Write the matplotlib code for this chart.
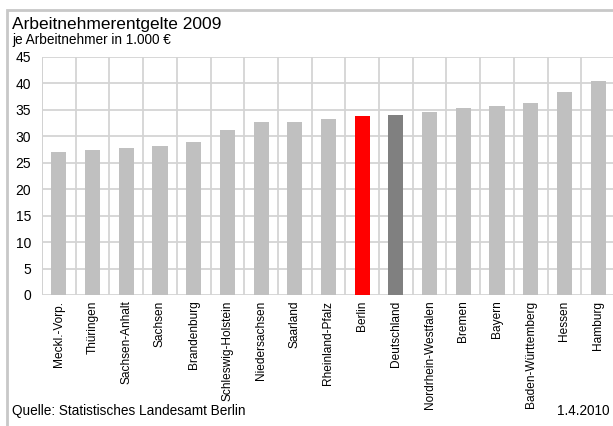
import matplotlib
matplotlib.use("Agg")
import numpy as np
import matplotlib.pyplot as plt
from matplotlib.patches import Rectangle

plt.rcParams['font.family'] = ['Liberation Sans', 'DejaVu Sans']

laender = ['Meckl.-Vorp.', 'Thüringen', 'Sachsen-Anhalt', 'Sachsen', 'Brandenburg',
           'Schleswig-Holstein', 'Niedersachsen', 'Saarland', 'Rheinland-Pfalz', 'Berlin',
           'Deutschland', 'Nordrhein-Westfalen', 'Bremen', 'Bayern', 'Baden-Württemberg',
           'Hessen', 'Hamburg']
entgelte = [27.0, 27.4, 27.8, 28.2, 28.9, 31.2, 32.7, 32.7, 33.3, 33.8,
            34.0, 34.6, 35.3, 35.7, 36.3, 38.4, 40.4]
yticks = [0, 5, 10, 15, 20, 25, 30, 35, 40, 45]

farben = []
for name in laender:
    if name == 'Berlin':
        farben.append('#FF0000')
    elif name == 'Deutschland':
        farben.append('#808080')
    else:
        farben.append('#C0C0C0')

fig = plt.figure(figsize=(6.13, 4.26), dpi=100)
ax = fig.add_axes([42/613, 1 - 295/426, 573/613, 238/426])

x = np.arange(len(laender))
ax.bar(x, entgelte, width=0.45, color=farben, zorder=3)

ax.set_xlim(-0.5, len(laender) - 0.5)
ax.set_ylim(0, 45)
ax.set_yticks(yticks)
ax.set_xticks(x)
ax.set_xticklabels(laender, rotation=90, fontsize=8.6)
ax.set_xticks(np.arange(-0.5, len(laender), 1), minor=True)
ax.grid(True, which='major', axis='y', color='#D4D4D4', lw=1.3, zorder=0)
ax.grid(True, which='minor', axis='x', color='#D4D4D4', lw=1.3, zorder=0)
ax.tick_params(axis='both', which='both', length=0)
ax.tick_params(axis='y', labelsize=10, pad=8)
ax.tick_params(axis='x', pad=4)
for s in ax.spines.values():
    s.set_visible(False)
ax.axvline(-0.5, color='#BFBFBF', lw=1.3, zorder=1)

fig.text(12/613, 1 - 29/426, 'Arbeitnehmerentgelte 2009', fontsize=12.5, va='baseline')
fig.text(12/613, 1 - 44/426, 'je Arbeitnehmer in 1.000 €', fontsize=9.8, va='baseline')
fig.text(12/613, 1 - 415/426, 'Quelle: Statistisches Landesamt Berlin', fontsize=9.8, va='baseline')
fig.text(609/613, 1 - 415/426, '1.4.2010', fontsize=9.8, va='baseline', ha='right')

fig.patches.append(Rectangle((6.5/613, -0.2), 1.2, 1.2 - 10/426, transform=fig.transFigure,
                             fill=False, edgecolor='#C8C8C8', lw=2))

fig.savefig('out.png', dpi=100)
